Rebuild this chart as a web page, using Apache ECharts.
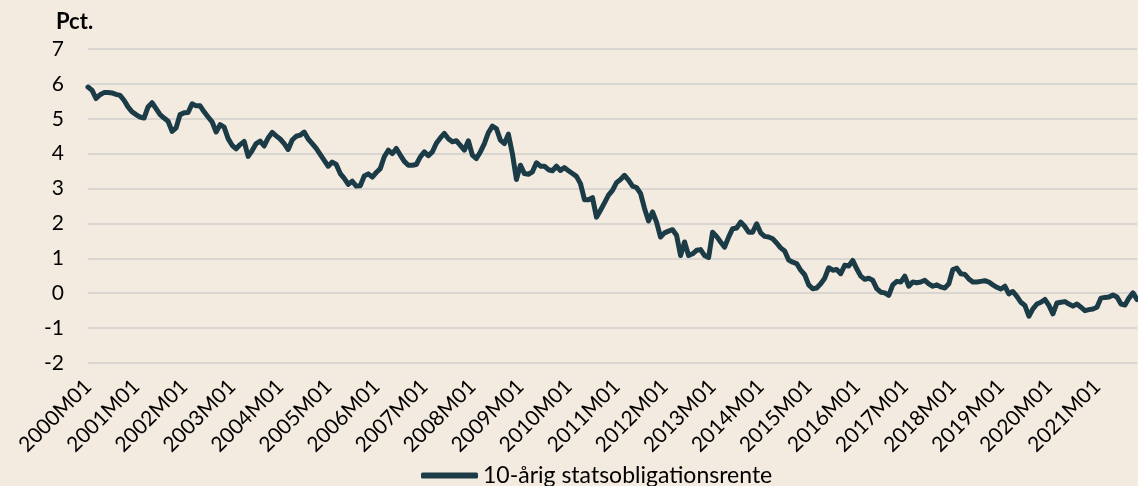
<!DOCTYPE html>
<html>
<head>
<meta charset="utf-8">
<script src="https://cdn.jsdelivr.net/npm/echarts@6/dist/echarts.min.js"></script>
<style>
    html, body { margin: 0; padding: 0; background: #f4ebe0; }
    #chart { width: 1138px; height: 486px; }
</style>
</head>
<body>
<div id="chart"></div>
<script>
// 10-årig statsobligationsrente, månedlig, 2000M01 - 2021M11
const years = [2000, 2001, 2002, 2003, 2004, 2005, 2006, 2007, 2008, 2009, 2010,
    2011, 2012, 2013, 2014, 2015, 2016, 2017, 2018, 2019, 2020, 2021];
const months = ['01', '02', '03', '04', '05', '06', '07', '08', '09', '10', '11', '12'];

const rente = [
    5.91, 5.82, 5.58, 5.69, 5.75, 5.75, 5.74, 5.70, 5.67, 5.53, 5.34, 5.20,
    5.12, 5.05, 5.02, 5.34, 5.46, 5.29, 5.12, 5.02, 4.93, 4.64, 4.74, 5.12,
    5.17, 5.18, 5.43, 5.37, 5.37, 5.20, 5.05, 4.91, 4.62, 4.83, 4.76, 4.43,
    4.24, 4.14, 4.26, 4.35, 3.92, 4.09, 4.29, 4.36, 4.22, 4.45, 4.61, 4.51,
    4.42, 4.29, 4.12, 4.39, 4.50, 4.53, 4.62, 4.42, 4.29, 4.15, 3.98, 3.81,
    3.64, 3.76, 3.69, 3.43, 3.29, 3.12, 3.21, 3.07, 3.08, 3.36, 3.42, 3.33,
    3.46, 3.57, 3.91, 4.10, 4.00, 4.15, 3.96, 3.78, 3.67, 3.67, 3.69, 3.91,
    4.05, 3.94, 4.05, 4.30, 4.45, 4.58, 4.43, 4.34, 4.37, 4.24, 4.10, 4.37,
    3.96, 3.86, 4.05, 4.29, 4.60, 4.79, 4.72, 4.39, 4.29, 4.56, 4.00, 3.26,
    3.67, 3.43, 3.41, 3.48, 3.74, 3.64, 3.64, 3.54, 3.51, 3.64, 3.52, 3.60,
    3.51, 3.43, 3.35, 3.14, 2.68, 2.68, 2.74, 2.18, 2.38, 2.59, 2.81, 2.95,
    3.17, 3.26, 3.38, 3.24, 3.07, 3.03, 2.86, 2.43, 2.07, 2.33, 2.04, 1.61,
    1.73, 1.78, 1.82, 1.66, 1.08, 1.47, 1.08, 1.13, 1.23, 1.25, 1.08, 1.02,
    1.75, 1.63, 1.47, 1.32, 1.61, 1.85, 1.87, 2.04, 1.92, 1.75, 1.75, 1.99,
    1.73, 1.63, 1.61, 1.56, 1.44, 1.30, 1.21, 0.95, 0.89, 0.85, 0.66, 0.53,
    0.24, 0.13, 0.15, 0.27, 0.43, 0.73, 0.66, 0.68, 0.56, 0.80, 0.78, 0.94,
    0.70, 0.49, 0.40, 0.43, 0.37, 0.13, 0.03, 0.01, -0.06, 0.24, 0.34, 0.32,
    0.49, 0.20, 0.32, 0.30, 0.32, 0.37, 0.27, 0.20, 0.24, 0.18, 0.15, 0.27,
    0.68, 0.72, 0.56, 0.54, 0.41, 0.32, 0.32, 0.34, 0.36, 0.32, 0.24, 0.17,
    0.12, 0.20, -0.02, 0.05, -0.09, -0.26, -0.35, -0.66, -0.45, -0.31, -0.26, -0.18,
    -0.35, -0.59, -0.28, -0.26, -0.24, -0.31, -0.37, -0.31, -0.40, -0.50, -0.47, -0.45,
    -0.40, -0.14, -0.12, -0.11, -0.05, -0.11, -0.31, -0.34, -0.14, 0.01, -0.18
];

// kategorier: 2000M01, 2000M02, ...
let categories = [];
years.forEach(y => months.forEach(m => categories.push(y + 'M' + m)));
categories = categories.slice(0, rente.length);

const font = 'Lato, "Liberation Sans", sans-serif';
const lineColor = '#1b3b47';

const myChart = echarts.init(document.getElementById('chart'));
myChart.setOption({
    backgroundColor: '#f4ebe0',
    animation: false,
    title: {
        text: 'Pct.',
        left: 51,
        top: 6,
        textStyle: {
            fontFamily: font,
            fontSize: 22,
            fontWeight: 'bold',
            color: '#000',
        },
    },
    grid: {
        left: 88,
        right: 1,
        top: 49,
        bottom: 123,
    },
    legend: {
        data: ['10-årig statsobligationsrente'],
        left: 416,
        top: 459,
        icon: 'roundRect',
        itemWidth: 57,
        itemHeight: 6,
        itemGap: 4,
        textStyle: {
            fontFamily: font,
            fontSize: 23,
            color: '#000',
        },
    },
    xAxis: {
        type: 'category',
        boundaryGap: false,
        data: categories,
        axisLine: { show: false },
        axisTick: { show: false },
        axisLabel: {
            interval: 11,
            rotate: 45,
            margin: 20,
            fontFamily: font,
            fontSize: 21,
            color: '#000',
        },
    },
    yAxis: {
        type: 'value',
        min: -2,
        max: 7,
        interval: 1,
        axisLine: { show: false },
        axisTick: { show: false },
        axisLabel: {
            margin: 24,
            fontFamily: font,
            fontSize: 21,
            color: '#000',
        },
        splitLine: {
            lineStyle: {
                color: '#d9d6d2',
                width: 2,
            },
        },
    },
    series: [{
        name: '10-årig statsobligationsrente',
        type: 'line',
        data: rente,
        symbol: 'none',
        lineStyle: {
            color: lineColor,
            width: 5,
            cap: 'round',
            join: 'round',
        },
        itemStyle: {
            color: lineColor,
        },
    }],
});
</script>
</body>
</html>
